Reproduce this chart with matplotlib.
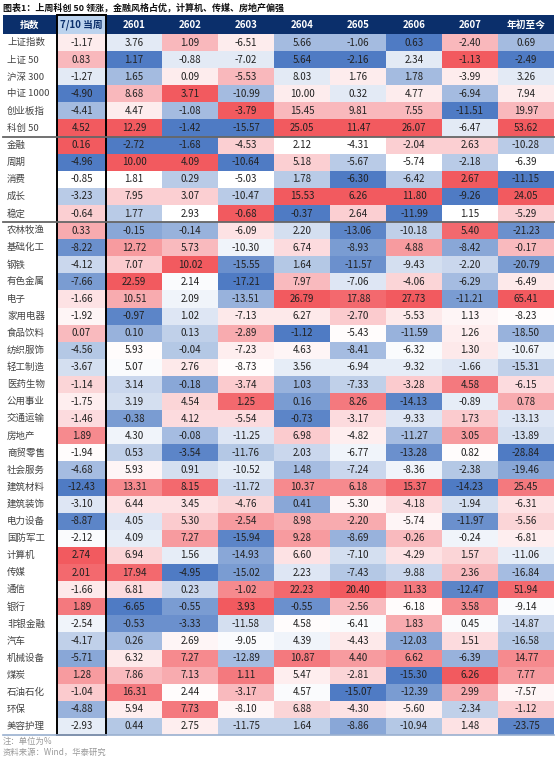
import numpy as np
import matplotlib
matplotlib.use("Agg")
import matplotlib.pyplot as plt
from matplotlib.colors import LinearSegmentedColormap
from matplotlib.patches import Rectangle

plt.rcParams['font.family'] = ['Noto Sans CJK SC', 'DejaVu Sans']

columns = ["7/10 当周", "2601", "2602", "2603", "2604", "2605", "2606", "2607", "年初至今"]
rows = ["上证指数", "上证 50", "沪深 300", "中证 1000", "创业板指", "科创 50",
        "金融", "周期", "消费", "成长", "稳定",
        "农林牧渔", "基础化工", "钢铁", "有色金属", "电子", "家用电器", "食品饮料", "纺织服饰",
        "轻工制造", "医药生物", "公用事业", "交通运输", "房地产", "商贸零售", "社会服务",
        "建筑材料", "建筑装饰", "电力设备", "国防军工", "计算机", "传媒", "通信", "银行",
        "非银金融", "汽车", "机械设备", "煤炭", "石油石化", "环保", "美容护理"]
values = [
    [-1.17, 3.76, 1.09, -6.51, 5.66, -1.06, 0.63, -2.40, 0.69],
    [0.83, 1.17, -0.88, -7.02, 5.64, -2.16, 2.34, -1.13, -2.49],
    [-1.27, 1.65, 0.09, -5.53, 8.03, 1.76, 1.78, -3.99, 3.26],
    [-4.90, 8.68, 3.71, -10.99, 10.00, 0.32, 4.77, -6.94, 7.94],
    [-4.41, 4.47, -1.08, -3.79, 15.45, 9.81, 7.55, -11.51, 19.97],
    [4.52, 12.29, -1.42, -15.57, 25.05, 11.47, 26.07, -6.47, 53.62],
    [0.16, -2.72, -1.68, -4.53, 2.12, -4.31, -2.04, 2.63, -10.28],
    [-4.96, 10.00, 4.09, -10.64, 5.18, -5.67, -5.74, -2.18, -6.39],
    [-0.85, 1.81, 0.29, -5.03, 1.78, -6.30, -6.42, 2.67, -11.15],
    [-3.23, 7.95, 3.07, -10.47, 15.53, 6.26, 11.80, -9.26, 24.05],
    [-0.64, 1.77, 2.93, -0.68, -0.37, 2.64, -11.99, 1.15, -5.29],
    [0.33, -0.15, -0.14, -6.09, 2.20, -13.06, -10.18, 5.40, -21.23],
    [-8.22, 12.72, 5.73, -10.30, 6.74, -8.93, 4.88, -8.42, -0.17],
    [-4.12, 7.07, 10.02, -15.55, 1.64, -11.57, -9.43, -2.20, -20.79],
    [-7.66, 22.59, 2.14, -17.21, 7.97, -7.06, -4.06, -6.29, -6.49],
    [-1.66, 10.51, 2.09, -13.51, 26.79, 17.88, 27.73, -11.21, 65.41],
    [-1.92, -0.97, 1.02, -7.13, 6.27, -2.70, -5.53, 1.13, -8.23],
    [0.07, 0.10, 0.13, -2.89, -1.12, -5.43, -11.59, 1.26, -18.50],
    [-4.56, 5.93, -0.04, -7.23, 4.63, -8.41, -6.32, 1.30, -10.67],
    [-3.67, 5.07, 2.76, -8.73, 3.56, -6.94, -9.32, -1.66, -15.31],
    [-1.14, 3.14, -0.18, -3.74, 1.03, -7.33, -3.28, 4.58, -6.15],
    [-1.75, 3.19, 4.54, 1.25, 0.16, 8.26, -14.13, -0.89, 0.78],
    [-1.46, -0.38, 4.12, -5.54, -0.73, -3.17, -9.33, 1.73, -13.13],
    [1.89, 4.30, -0.08, -11.25, 6.98, -4.82, -11.27, 3.05, -13.89],
    [-1.94, 0.53, -3.54, -11.76, 2.03, -6.77, -13.28, 0.82, -28.84],
    [-4.68, 5.93, 0.91, -10.52, 1.48, -7.24, -8.36, -2.38, -19.46],
    [-12.43, 13.31, 8.15, -11.72, 10.37, 6.18, 15.37, -14.23, 25.45],
    [-3.10, 6.44, 3.45, -4.76, 0.41, -5.30, -4.18, -1.94, -6.31],
    [-8.87, 4.05, 5.30, -2.54, 8.98, -2.20, -5.74, -11.97, -5.56],
    [-2.12, 4.09, 7.27, -15.94, 9.28, -8.69, -0.26, -0.24, -6.81],
    [2.74, 6.94, 1.56, -14.93, 6.60, -7.10, -4.29, 1.57, -11.06],
    [2.01, 17.94, -4.95, -15.02, 2.23, -7.43, -9.88, 2.36, -16.84],
    [-1.66, 6.81, 0.23, -1.02, 22.23, 20.40, 11.33, -12.47, 51.94],
    [1.89, -6.65, -0.55, 3.93, -0.55, -2.56, -6.18, 3.58, -9.14],
    [-2.54, -0.53, -3.33, -11.58, 4.58, -6.41, 1.83, 0.45, -14.87],
    [-4.17, 0.26, 2.69, -9.05, 4.39, -4.43, -12.03, 1.51, -16.58],
    [-5.71, 6.32, 7.27, -12.89, 10.87, 4.40, 6.62, -6.39, 14.77],
    [1.28, 7.86, 7.13, 1.11, 5.47, -2.81, -15.30, 6.26, 7.77],
    [-1.04, 16.31, 2.44, -3.17, 4.57, -15.07, -12.39, 2.99, -7.57],
    [-4.88, 5.94, 7.73, -8.10, 6.88, -4.30, -5.60, -2.34, -1.12],
    [-2.93, 0.44, 2.75, -11.75, 1.64, -8.86, -10.94, 1.48, -23.75],
]
groups = [(0, 6), (6, 11), (11, 41)]

V = np.array(values)
nr, nc = V.shape
cmap = LinearSegmentedColormap.from_list(
    "bwr2", [(0, "#4f7bc4"), (0.25, "#b9cbe7"), (0.5, "#ffffff"), (0.75, "#fbd0d3"), (1, "#f25a5f")])

norm = np.zeros_like(V)
for a, b in groups:
    for j in range(nc):
        col = V[a:b, j]
        r = col.argsort().argsort()
        norm[a:b, j] = r / (len(col) - 1)

W, H = 559, 760
fig = plt.figure(figsize=(W/100, H/100), dpi=100)
ax = fig.add_axes([0, 0, 1, 1])
ax.set_xlim(0, W); ax.set_ylim(H, 0); ax.axis('off')

x0 = 3; lw_ = 54; cw = 56.0
top = 15; hh = 19; rh = (735 - top - hh) / nr
colx = [x0 + lw_] + [x0 + lw_ + 49 + cw * k for k in range(nc - 1)]
colw = [49] + [cw] * (nc - 1)

fig.text(3/W, 1 - 8/H, "图表1：上周科创 50 领涨，金融风格占优，计算机、传媒、房地产偏强",
         fontsize=6.5, fontweight='bold', va='center', ha='left', color='#111111')

navy = "#0b2f6b"
ax.add_patch(Rectangle((x0, top), colx[-1] + colw[-1] - x0, hh, color=navy, lw=0))
ax.add_patch(Rectangle((colx[0], top), colw[0], hh, color="#bcd3ee", lw=0))
ax.text(x0 + lw_/2, top + hh/2, "指数", color='white', fontsize=7, fontweight='bold', ha='center', va='center')
for j, c in enumerate(columns):
    ax.text(colx[j] + colw[j]/2, top + hh/2, c, color=navy if j == 0 else 'white',
            fontsize=7, fontweight='bold', ha='center', va='center')

y0 = top + hh
for i, name in enumerate(rows):
    y = y0 + i * rh
    ax.text(x0 + 4, y + rh/2, name, fontsize=6.8, color='#444444', ha='left', va='center')
    for j in range(nc):
        ax.add_patch(Rectangle((colx[j], y), colw[j], rh, color=cmap(norm[i, j]), lw=0))
        ax.text(colx[j] + colw[j]/2, y + rh/2, f"{V[i, j]:.2f}", fontsize=7, color='#222222',
                ha='center', va='center')

for a, b in groups[1:]:
    ax.plot([x0, colx[-1] + colw[-1]], [y0 + a*rh]*2, color='#666666', lw=1.3)
ax.plot([x0, colx[-1] + colw[-1]], [y0 + nr*rh]*2, color='#9ab0d0', lw=1.2)
ax.add_patch(Rectangle((colx[0], top), colw[0], hh + nr*rh, fill=False, ec='black', lw=1.4))

fig.text(3/W, 1 - 741/H, "注：单位为%", fontsize=6, color='#999999', va='center')
fig.text(3/W, 1 - 752/H, "资料来源：Wind，华泰研究", fontsize=6, color='#999999', va='center')
fig.savefig("out.png", dpi=100)
